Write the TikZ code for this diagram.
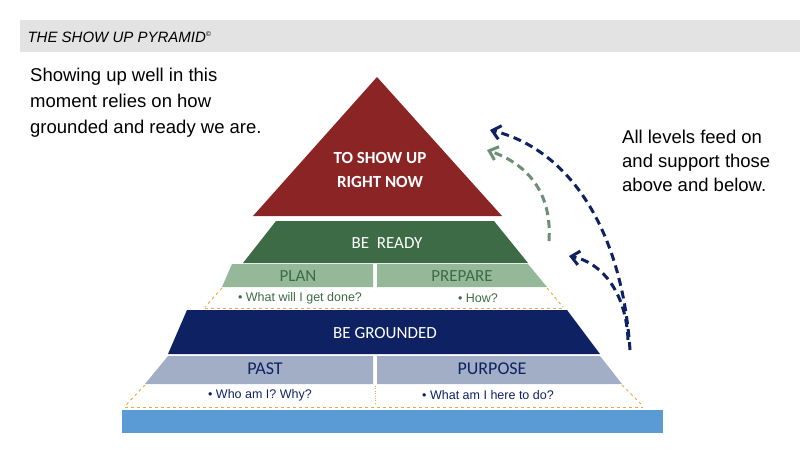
\documentclass[tikz,border=0pt]{standalone}
\usepackage{fontspec}
\setmainfont{Liberation Sans}
\newfontfamily\carlf{Carlito}
\usetikzlibrary{arrows.meta}
\definecolor{cred}{HTML}{8B2424}
\definecolor{cgreen}{HTML}{3D6B45}
\definecolor{clgreen}{HTML}{95B898}
\definecolor{cnavy}{HTML}{0E2162}
\definecolor{clnavy}{HTML}{A2AEC6}
\definecolor{cblue}{HTML}{5B9BD5}
\definecolor{corange}{HTML}{F2A541}
\definecolor{cgray}{HTML}{E3E3E3}
\begin{document}
\begin{tikzpicture}[x=1pt,y=-1pt,
  lbl/.style={font=\carlf\fontsize{17}{17}\selectfont},
  sub/.style={font=\fontsize{12.5}{12.5}\selectfont},
  body/.style={font=\fontsize{18.5}{26}\selectfont,align=left,anchor=north west,inner sep=0},
  odash/.style={corange,dashed,line width=0.9pt},
  arr/.style={line width=3pt,dash pattern=on 8pt off 5pt,-{Straight Barb[length=8pt,width=14pt]}}]
\useasboundingbox (0,0) rectangle (800,469);
\fill[cgray] (20,20) rectangle (800,52);
\node[anchor=west,font=\itshape\fontsize{15}{15}\selectfont] (title) at (24,37) {THE SHOW UP PYRAMID\textsuperscript{\scriptsize\copyright}};
\node[body] (lt) at (30,68) {Showing up well in this\\moment relies on how\\grounded and ready we are.};
\node[body,font=\fontsize{18.5}{24}\selectfont] (rt) at (622,130) {All levels feed on\\and support those\\above and below.};
% red
\fill[cred] (377,77) -- (502,216) -- (253,216) -- cycle;
\node[text=white,font=\carlf\bfseries\fontsize{17}{24}\selectfont,align=center] (top) at (380,170) {TO SHOW UP\\RIGHT NOW};
% green
\fill[cgreen] (276,221) -- (494,221) -- (528,263) -- (243,263) -- cycle;
\node[lbl,text=white] (ready) at (387,243) {BE\ \ READY};
\fill[clgreen] (232,264) -- (373,264) -- (373,287) -- (222,287) -- cycle;
\fill[clgreen] (377,264) -- (528,264) -- (547,287) -- (377,287) -- cycle;
\node[lbl,text=cgreen] (plan) at (298,276) {PLAN};
\node[lbl,text=cgreen] (prep) at (462,276) {PREPARE};
\draw[odash] (222,288) -- (205,307);
\draw[odash] (547,288) -- (563,307);
\draw[odash] (205,308) -- (563,308);
\node[sub,text=cgreen] (q1) at (300,298) {\textbullet\ What will I get done?};
\node[sub,text=cgreen] (q2) at (478,298) {\textbullet\ How?};
% navy
\fill[cnavy] (187,310) -- (567,310) -- (600,354) -- (168,354) -- cycle;
\node[lbl,text=white] (gr) at (385,333) {BE GROUNDED};
\fill[clnavy] (168,356) -- (373,356) -- (373,384) -- (145,384) -- cycle;
\fill[clnavy] (377,356) -- (600,356) -- (622,384) -- (377,384) -- cycle;
\node[text=cnavy,font=\carlf\fontsize{18}{18}\selectfont] (past) at (265,369) {PAST};
\node[text=cnavy,font=\carlf\fontsize{18}{18}\selectfont] (purp) at (492,369) {PURPOSE};
\draw[corange,dotted,line width=0.4pt] (375,386) -- (375,405);
\draw[odash] (145,385) -- (125,406);
\draw[odash] (622,385) -- (643,406);
\draw[odash] (125,407) -- (643,407);
\node[sub,text=cnavy] (q3) at (260,395) {\textbullet\ Who am I? Why?};
\node[sub,text=cnavy] (q4) at (488,395) {\textbullet\ What am I here to do?};
% base
\fill[cblue] (122,410) rectangle (663,433);
% arrows
\coordinate (s1) at (630,350);
\coordinate (e1) at (490,130);
\coordinate (s2) at (628,340);
\coordinate (e2) at (569,256);
\coordinate (s3) at (549,241);
\coordinate (e3) at (487,150);
\draw[arr,cnavy] (s1) .. controls (622,230) and (570,150) .. (e1);
\draw[arr,cnavy] (s2) .. controls (626,290) and (600,262) .. (e2);
\draw[arr,color=cgreen!75!white] (s3) .. controls (552,195) and (530,165) .. (e3);
\end{tikzpicture}
\end{document}
